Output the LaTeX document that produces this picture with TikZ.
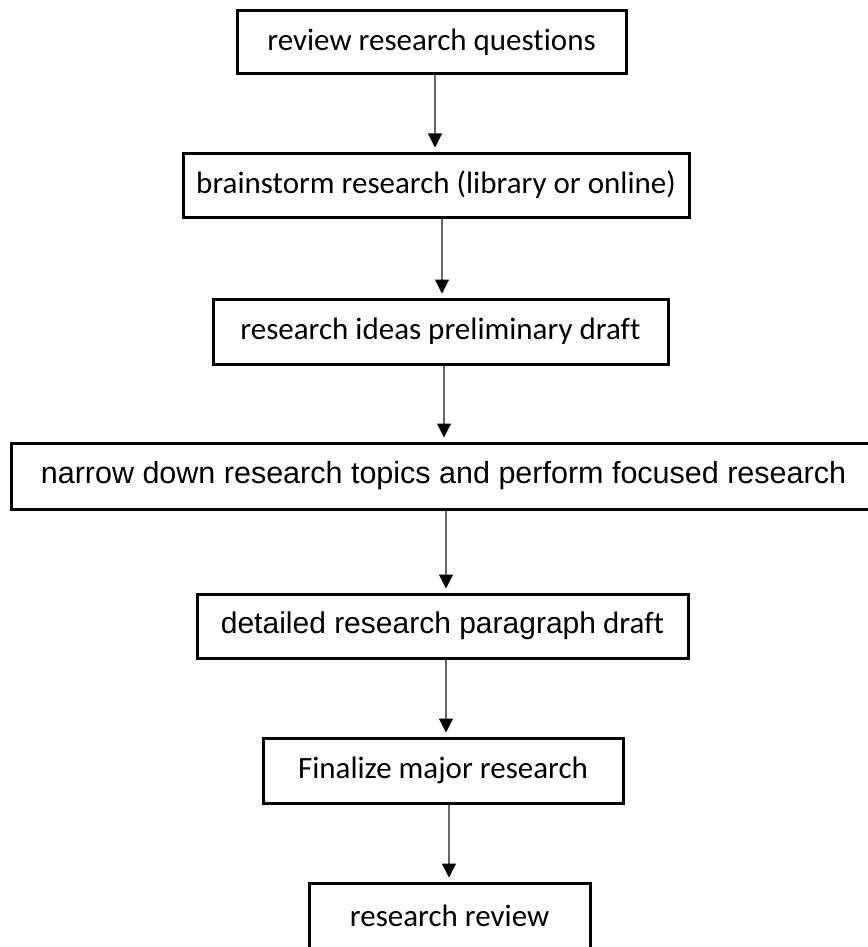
\documentclass[tikz,border=0pt]{standalone}
\usepackage{fontspec}
\setmainfont{Carlito}[Ligatures=NoCommon]
\newfontfamily\arialfont{Liberation Sans}
\usetikzlibrary{arrows.meta}
\begin{document}
\begin{tikzpicture}[x=1pt,y=-1pt,
  stepbox/.style={draw=black, line width=3pt, inner sep=0pt, align=center,
    font=\fontsize{31}{37}\selectfont},
  flow/.style={draw=black!60, line width=1.1pt,
    -{Triangle[length=14pt,width=14pt,color=black]}, shorten >=4pt}]
\useasboundingbox (0,0) rectangle (867,947);
\fill[white] (0,0) rectangle (867,947);

% process steps
\node[stepbox, minimum width=389pt, minimum height=63pt] (b1) at (431.5,42)
  {review research questions};
\node[stepbox, minimum width=506pt, minimum height=64pt] (b2) at (436,185)
  {brainstorm research (library or online)};
\node[stepbox, minimum width=455pt, minimum height=65pt] (b3) at (440.5,331.5)
  {research ideas preliminary draft};
\node[stepbox, minimum width=865pt, minimum height=66pt,
  font=\arialfont\fontsize{30.5}{37}\selectfont] (b4) at (443.5,476)
  {narrow down research topics and perform focused research};
\node[stepbox, minimum width=491pt, minimum height=64pt] (b5) at (442.5,626)
  {{\arialfont\fontsize{30}{37}\selectfont detailed research paragraph} draft};
\node[stepbox, minimum width=360pt, minimum height=65pt] (b6) at (443,770.5)
  {Finalize major research};
\node[stepbox, minimum width=281pt, minimum height=66pt] (b7) at (449.5,916)
  {research review};

% x positions of the connectors
\coordinate (a1) at (435,0);
\coordinate (a2) at (442,0);
\coordinate (a3) at (444,0);
\coordinate (a4) at (446,0);
\coordinate (a5) at (446,0);
\coordinate (a6) at (449,0);

\draw[flow] (b1.south -| a1) -- (b2.north -| a1);
\draw[flow] (b2.south -| a2) -- (b3.north -| a2);
\draw[flow] (b3.south -| a3) -- (b4.north -| a3);
\draw[flow] (b4.south -| a4) -- (b5.north -| a4);
\draw[flow] (b5.south -| a5) -- (b6.north -| a5);
\draw[flow] (b6.south -| a6) -- (b7.north -| a6);
\end{tikzpicture}
\end{document}
